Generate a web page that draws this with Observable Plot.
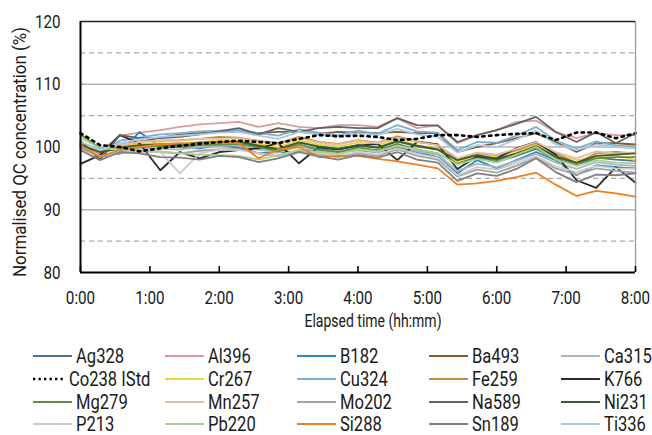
<!DOCTYPE html>
<html><head><meta charset="utf-8">
<script src="https://cdn.jsdelivr.net/npm/d3@7"></script>
<script src="https://cdn.jsdelivr.net/npm/@observablehq/plot@0.6"></script>
<style>
body{margin:0;background:#fff;}
#chart{position:relative;width:652px;height:435px;background:#fff;font-family:Roboto,"Noto Sans",sans-serif;}
#chart svg{display:block;}
</style></head><body><div id="chart"></div>
<script>
// elapsed minutes for each QC measurement
const minutes = [0,17,34,51,69,86,103,120,137,154,171,189,206,223,240,257,274,291,309,326,343,360,377,394,411,429,446,463,480];
const hourTicks = [0,60,120,180,240,300,360,420,480];
const yTicks = [80,90,100,110,120];

const names = ["Ag328","Al396","B182","Ba493","Ca315","Co238 IStd","Cr267","Cu324","Fe259","K766","Mg279","Mn257","Mo202","Na589","Ni231","P213","Pb220","Si288","Sn189","Ti336"];
const colors = ["#4a7498","#da9c9c","#2f86c0","#8b5a2b","#a8b8c0","#000000","#ecd43e","#7cb0d2","#cc8a38","#2b2b2b","#5f8f3f","#dcc0aa","#a3a3a3","#626262","#3e5c2a","#cbcbcb","#a9d08e","#f07f1e","#808080","#a9c9e8"];

const Ag328 = [100.2,99.1,99.8,100.4,100.3,100.2,100.6,100.7,100.9,100.3,99.8,100.8,100.0,99.7,100.3,99.9,100.9,100.1,99.6,97.5,98.3,97.9,98.9,99.9,98.4,97.4,98.3,98.0,97.8];
const Al396 = [100.5,99.3,101.8,102.3,102.7,103.2,103.6,103.8,104.0,103.2,103.8,103.2,103.0,103.5,103.5,103.2,104.6,103.0,103.5,100.6,101.9,102.7,104.0,104.2,102.4,101.4,102.2,101.9,101.9];
const B182 = [100.6,98.9,98.9,102.4,100.0,100.0,99.8,100.3,99.9,99.0,99.2,99.2,99.8,99.2,99.5,99.2,100.0,99.2,98.4,95.8,97.9,96.6,97.9,99.2,97.9,95.5,97.1,96.8,96.6];
const Ba493 = [100.5,99.5,100.3,100.8,101.5,102.0,102.2,102.4,102.5,102.2,102.4,102.4,102.1,102.4,102.3,102.2,102.4,102.2,102.2,99.2,100.0,100.6,101.4,102.2,100.8,99.2,100.6,100.6,100.4];
const Ca315 = [100.0,98.6,99.4,99.8,99.7,99.6,100.0,100.2,100.3,99.6,99.1,100.1,99.4,99.0,99.6,99.2,100.2,99.3,98.8,96.2,97.3,96.8,97.8,98.9,97.5,96.5,97.6,97.2,97.0];
const Co238 = [102.2,100.3,100.0,99.3,99.8,100.2,100.5,100.8,101.0,100.8,100.6,101.3,101.9,101.7,101.8,101.6,101.1,101.3,101.9,101.9,101.6,101.9,102.1,102.2,101.1,102.3,102.3,101.4,102.2];
const Cr267 = [100.6,99.4,100.0,100.5,100.6,100.5,100.8,101.0,101.1,100.5,100.0,101.0,100.4,100.1,100.7,100.3,101.2,100.3,99.8,97.6,98.7,98.4,99.4,100.3,98.9,97.9,98.4,98.7,97.9];
const Cu324 = [100.2,99.0,101.0,101.5,102.0,102.2,102.5,102.6,102.7,102.2,101.8,102.8,102.3,101.9,102.6,102.1,103.5,102.5,102.3,99.5,100.8,100.7,101.8,103.2,101.0,99.8,100.9,100.2,100.1];
const Fe259 = [100.4,99.0,100.2,100.9,101.0,101.1,101.3,101.6,101.5,101.0,100.6,101.6,100.8,100.5,101.1,100.7,101.7,100.9,100.4,97.9,99.0,98.7,99.5,100.6,99.0,97.4,99.0,99.2,99.0];
const K766 = [97.3,98.7,101.9,100.6,96.3,99.2,98.2,99.2,99.5,99.8,100.6,97.4,100.0,99.6,100.2,100.5,97.9,100.8,100.4,96.5,98.5,98.2,99.8,100.8,98.8,94.7,93.5,96.8,94.3];
const Mg279 = [102.0,99.8,99.6,100.0,100.2,100.0,100.3,100.4,100.5,100.0,99.3,100.4,99.6,99.2,99.9,99.5,100.5,99.6,99.0,97.3,98.2,97.6,98.6,99.7,98.1,97.1,98.2,98.4,98.4];
const Mn257 = [100.7,99.4,100.3,100.8,101.0,101.0,101.3,101.3,101.4,100.9,100.5,101.4,100.7,100.4,101.0,100.6,101.5,100.8,100.3,98.2,99.1,98.8,99.7,100.8,99.2,98.2,99.3,99.0,99.1];
const Mo202 = [99.8,98.4,99.0,99.3,99.2,99.0,99.4,99.6,99.7,99.0,98.5,99.5,98.8,98.4,99.0,98.6,99.6,98.6,98.0,95.3,96.4,95.9,97.0,98.3,96.6,95.6,96.6,96.2,95.9];
const Na589 = [101.0,98.0,101.9,101.4,101.4,101.6,102.0,102.5,103.0,102.0,103.0,102.4,103.0,103.2,103.0,103.0,104.6,103.5,103.4,100.8,101.9,102.7,103.7,104.8,102.4,100.8,102.4,100.6,102.2];
const Ni231 = [100.3,99.2,99.9,100.3,100.4,100.4,100.7,100.8,100.8,100.2,99.6,100.7,100.1,99.7,100.3,99.9,100.9,100.2,99.6,97.9,98.7,98.1,99.0,100.1,98.5,97.5,98.6,98.8,99.0];
const P213 = [100.2,98.5,99.2,99.5,99.2,95.8,99.0,99.6,99.5,99.0,98.6,99.6,99.0,98.6,99.2,98.8,99.8,98.9,98.3,95.5,96.8,96.4,97.4,98.5,96.9,96.0,97.0,96.6,96.5];
const Pb220 = [101.5,99.8,99.6,99.5,99.3,99.0,98.8,98.7,98.6,98.0,98.7,99.5,99.2,98.9,99.6,99.3,100.2,99.6,99.0,97.2,98.1,97.5,98.8,100.0,98.0,97.0,97.9,97.5,97.4];
const Si288 = [100.2,98.4,99.6,100.0,100.4,100.6,100.5,100.8,100.6,98.2,99.6,100.0,98.4,98.6,98.6,98.1,97.7,97.2,96.6,94.0,94.2,94.6,95.2,95.9,94.0,92.2,93.0,92.6,92.1];
const Sn189 = [99.5,97.9,99.2,99.0,98.4,98.3,98.0,98.6,98.4,97.6,98.2,99.2,98.5,98.0,98.7,98.3,99.2,98.0,97.5,94.6,95.8,95.4,96.5,98.2,96.0,94.4,95.6,95.5,95.8];
const Ti336 = [100.8,99.6,100.6,101.2,101.6,101.8,102.0,102.3,102.4,101.8,101.3,102.4,102.0,101.6,102.2,101.9,102.9,102.0,101.6,99.1,100.3,100.0,101.2,102.6,100.4,99.5,100.4,100.0,99.8];

const valuesBySeries = [Ag328,Al396,B182,Ba493,Ca315,Co238,Cr267,Cu324,Fe259,K766,Mg279,Mn257,Mo202,Na589,Ni231,P213,Pb220,Si288,Sn189,Ti336];

const rows = [];
names.forEach((name, s) => valuesBySeries[s].forEach((v, i) => rows.push({name, t: minutes[i], v})));
const solidRows = rows.filter(d => d.name !== "Co238 IStd");
const dotRows = rows.filter(d => d.name === "Co238 IStd");

const FONT = 'Roboto,"Noto Sans",sans-serif';

const chart = Plot.plot({
  width: 652,
  height: 340,
  marginLeft: 80,
  marginRight: 17,
  marginTop: 21,
  marginBottom: 68,
  style: {fontFamily: FONT, fontSize: "19px", background: "#fff", color: "#1a1a1a", overflow: "visible"},
  x: {domain: [0, 480], label: null},
  y: {domain: [80, 120], label: null},
  color: {domain: names, range: colors},
  marks: [
    Plot.ruleY([90, 100, 110], {stroke: "#b4b4b4", strokeWidth: 1.3}),
    Plot.ruleY([85, 95, 105, 115], {stroke: "#a8a8a8", strokeWidth: 1.2, strokeDasharray: "5,4"}),
    Plot.line(solidRows, {x: "t", y: "v", z: "name", stroke: "name", strokeWidth: 1.8}),
    Plot.line(dotRows, {x: "t", y: "v", stroke: "#000", strokeWidth: 2.6, strokeDasharray: "2.4,4.4"}),
    Plot.ruleX([480], {stroke: "#9a9a9a", strokeWidth: 1.3}),
    Plot.ruleY([120], {stroke: "#222", strokeWidth: 1.3}),
    Plot.ruleX([0], {stroke: "#000", strokeWidth: 2}),
    Plot.ruleY([80], {stroke: "#000", strokeWidth: 2}),
    Plot.axisX({ticks: hourTicks, tickSize: -6, tickFormat: () => "", stroke: "#000", strokeWidth: 1.6, label: null}),
    Plot.axisX({ticks: hourTicks, tickSize: 0, tickPadding: 18, tickFormat: d => `${d / 60}:00`, fontSize: 19, label: null, className: "tickx"}),
    Plot.axisY({ticks: yTicks, tickSize: 0, tickPadding: 20, fontSize: 19, label: null, className: "ticky"}),
    Plot.text(["Elapsed time (hh:mm)"], {frameAnchor: "bottom", dy: 54, dx: 15, fontSize: 18, fill: "#1a1a1a", className: "titlex"}),
    Plot.text(["Normalised QC concentration (%)"], {frameAnchor: "left", textAnchor: "middle", dx: -60, dy: 5, rotate: -90, fontSize: 18, fill: "#1a1a1a", className: "titley"})
  ]
});
const root = document.getElementById("chart");
root.appendChild(chart);

// narrow the text to match the condensed typeface of the original
function squeeze(sel, k) {
  sel.each(function () {
    const L = this.getComputedTextLength();
    if (L > 0) { this.setAttribute("textLength", (L * k).toFixed(1)); this.setAttribute("lengthAdjust", "spacingAndGlyphs"); }
  });
}
function fitTo(sel, len) {
  sel.each(function () { this.setAttribute("textLength", len); this.setAttribute("lengthAdjust", "spacingAndGlyphs"); });
}
const svg = d3.select(chart);
squeeze(svg.selectAll(".tickx text"), 0.8);
squeeze(svg.selectAll(".ticky text"), 0.8);
fitTo(svg.selectAll(".titlex text"), 137);
fitTo(svg.selectAll(".titley text"), 250);

// legend below the plot
const legendSvg = d3.select(root).append("svg")
  .attr("width", 652).attr("height", 95)
  .style("font-family", FONT).style("font-size", "19.5px");
const colX = [33, 165, 297, 429, 561];
const rowY = [16, 39, 62, 84];
names.forEach((name, i) => {
  const row = Math.floor(i / 5), col = i % 5;
  const g = legendSvg.append("g").attr("transform", `translate(${colX[col]},${rowY[row]})`);
  const dotted = name === "Co238 IStd";
  g.append("line").attr("x1", 0).attr("x2", dotted ? 33 : 39).attr("y1", 0).attr("y2", 0)
    .attr("stroke", colors[i]).attr("stroke-width", dotted ? 2.6 : 1.8)
    .attr("stroke-dasharray", dotted ? "2.3,3.2" : null);
  g.append("text").attr("x", dotted ? 36 : 43).attr("y", 7).attr("fill", "#1a1a1a").text(name);
});
squeeze(legendSvg.selectAll("text"), 0.85);
</script></body></html>
